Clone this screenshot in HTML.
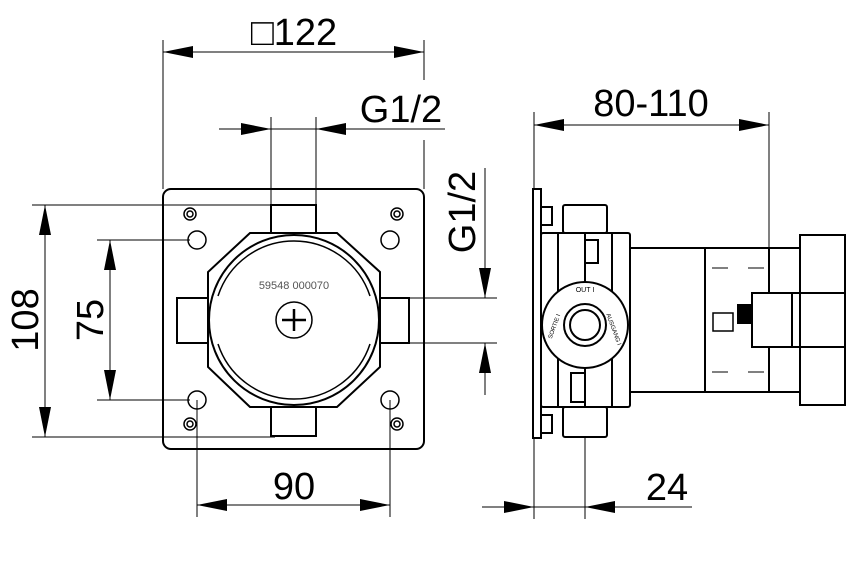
<!DOCTYPE html>
<html><head><meta charset="utf-8"><style>html,body{margin:0;padding:0;background:#fff}svg{display:block}</style></head>
<body>
<svg width="854" height="572" viewBox="0 0 854 572" xmlns="http://www.w3.org/2000/svg" font-family="Liberation Sans, sans-serif">
<defs>
<marker id="a" viewBox="0 0 10 4" refX="10" refY="2" markerWidth="30" markerHeight="12" markerUnits="userSpaceOnUse" orient="auto"><path d="M0,0L10,2L0,4z" fill="#000"/></marker>
</defs>
<g stroke="#000" stroke-width="1" fill="none">
<line x1="163" y1="40" x2="163" y2="189"/>
<line x1="424" y1="40" x2="424" y2="80"/>
<line x1="424" y1="140" x2="424" y2="189"/>
<line x1="294" y1="52" x2="163" y2="52" marker-end="url(#a)"/>
<line x1="294" y1="52" x2="424" y2="52" marker-end="url(#a)"/>
<line x1="219" y1="129" x2="271" y2="129" marker-end="url(#a)"/>
<line x1="271" y1="129" x2="316" y2="129"/>
<line x1="445" y1="129" x2="316" y2="129" marker-end="url(#a)"/>
<line x1="271" y1="117" x2="271" y2="205"/>
<line x1="316" y1="117" x2="316" y2="205"/>
<line x1="32" y1="205" x2="275" y2="205"/>
<line x1="32" y1="437" x2="275" y2="437"/>
<line x1="45" y1="320" x2="45" y2="205" marker-end="url(#a)"/>
<line x1="45" y1="320" x2="45" y2="437" marker-end="url(#a)"/>
<line x1="97" y1="240" x2="190" y2="240"/>
<line x1="97" y1="400" x2="190" y2="400"/>
<line x1="110" y1="320" x2="110" y2="240" marker-end="url(#a)"/>
<line x1="110" y1="320" x2="110" y2="400" marker-end="url(#a)"/>
<line x1="197" y1="400" x2="197" y2="517"/>
<line x1="390" y1="400" x2="390" y2="517"/>
<line x1="294" y1="505" x2="197" y2="505" marker-end="url(#a)"/>
<line x1="294" y1="505" x2="390" y2="505" marker-end="url(#a)"/>
<line x1="409" y1="298" x2="497" y2="298"/>
<line x1="409" y1="343" x2="497" y2="343"/>
<line x1="485" y1="168" x2="485" y2="298" marker-end="url(#a)"/>
<line x1="485" y1="395" x2="485" y2="343" marker-end="url(#a)"/>
<line x1="534" y1="112" x2="534" y2="189"/>
<line x1="769" y1="112" x2="769" y2="248"/>
<line x1="650" y1="125" x2="534" y2="125" marker-end="url(#a)"/>
<line x1="650" y1="125" x2="769" y2="125" marker-end="url(#a)"/>
<line x1="534" y1="438" x2="534" y2="519"/>
<line x1="585" y1="437" x2="585" y2="519"/>
<line x1="482" y1="507" x2="534" y2="507" marker-end="url(#a)"/>
<line x1="534" y1="507" x2="585" y2="507"/>
<line x1="692" y1="507" x2="585" y2="507" marker-end="url(#a)"/>
</g>
<g stroke="#000" stroke-width="2" fill="none">
<rect x="163" y="189" width="261" height="260" rx="8"/>
<path d="M250,233 L337,233 L380,272 L380,367 L337,407 L250,407 L208,367 L208,272 Z" fill="#fff"/>
<circle cx="294" cy="320" r="85"/>
<path d="M218,296 A80,80 0 0 1 370,296 M218,344 A80,80 0 0 0 370,344" stroke-width="1.5"/>
<rect x="271" y="205" width="45" height="28"/>
<rect x="271" y="407" width="45" height="29"/>
<rect x="177" y="298" width="31" height="45"/>
<rect x="380" y="298" width="29" height="45"/>
<circle cx="294" cy="320" r="18" stroke-width="1.5"/>
<path d="M282,320 H306 M294,309 V331" stroke-width="2.5"/>
<g stroke-width="1.5">
<circle cx="190" cy="214" r="6"/><circle cx="190" cy="214" r="3"/>
<circle cx="397" cy="214" r="6"/><circle cx="397" cy="214" r="3"/>
<circle cx="190" cy="424" r="6"/><circle cx="190" cy="424" r="3"/>
<circle cx="397" cy="424" r="6"/><circle cx="397" cy="424" r="3"/>
<circle cx="197" cy="240" r="9"/><circle cx="390" cy="240" r="9"/>
<circle cx="197" cy="400" r="9"/><circle cx="390" cy="400" r="9"/>
</g>
<rect x="533" y="189" width="8" height="249"/>
<rect x="541" y="207" width="11" height="18"/>
<rect x="541" y="415" width="11" height="18"/>
<rect x="563" y="205" width="44" height="28" rx="2"/>
<rect x="563" y="407" width="44" height="30" rx="2"/>
<rect x="541" y="233" width="89" height="174" rx="2"/>
<line x1="558" y1="233" x2="558" y2="407"/>
<line x1="585" y1="233" x2="585" y2="407"/>
<line x1="612" y1="233" x2="612" y2="407"/>
<rect x="585" y="240" width="13" height="23"/>
<rect x="571" y="373" width="14" height="29"/>
<circle cx="585" cy="325" r="43" fill="#fff"/>
<circle cx="585" cy="325" r="21"/>
<circle cx="585" cy="325" r="15"/>
<path d="M630,248 H800 M630,392 H800 M705,248 V392 M769,248 V293 M769,347 V392"/>
<rect x="800" y="235" width="45" height="170"/>
<rect x="752" y="293" width="93" height="54"/>
<line x1="792" y1="293" x2="792" y2="347"/>
<rect x="713" y="313" width="20" height="18" stroke-width="1.5"/>
<rect x="738" y="305" width="14" height="18" fill="#000"/>
</g>
<g stroke="#000" stroke-width="1" fill="none">
<path d="M712,268 H728 M748,268 H764 M712,372 H728 M748,372 H764"/>
</g>
<g fill="#000">
<text x="294" y="45" font-size="38" text-anchor="middle">□122</text>
<text x="401" y="122" font-size="38" text-anchor="middle">G1/2</text>
<text x="651" y="116" font-size="38" text-anchor="middle">80-110</text>
<text x="294" y="499" font-size="38" text-anchor="middle">90</text>
<text x="667" y="500" font-size="38" text-anchor="middle">24</text>
<text transform="translate(38,320) rotate(-90)" font-size="38" text-anchor="middle">108</text>
<text transform="translate(103,320) rotate(-90)" font-size="38" text-anchor="middle">75</text>
<text transform="translate(475,212) rotate(-90)" font-size="38" text-anchor="middle">G1/2</text>
<text x="294" y="289" font-size="11" fill="#555" text-anchor="middle">59548 000070</text>
<text x="585" y="292" font-size="7" text-anchor="middle">OUT  I</text>
<text transform="translate(556,327) rotate(-70)" font-size="6" text-anchor="middle">SORTIE I</text>
<text transform="translate(612,330) rotate(70)" font-size="6" text-anchor="middle">AUSGANG I</text>
</g>
</svg>
</body></html>
